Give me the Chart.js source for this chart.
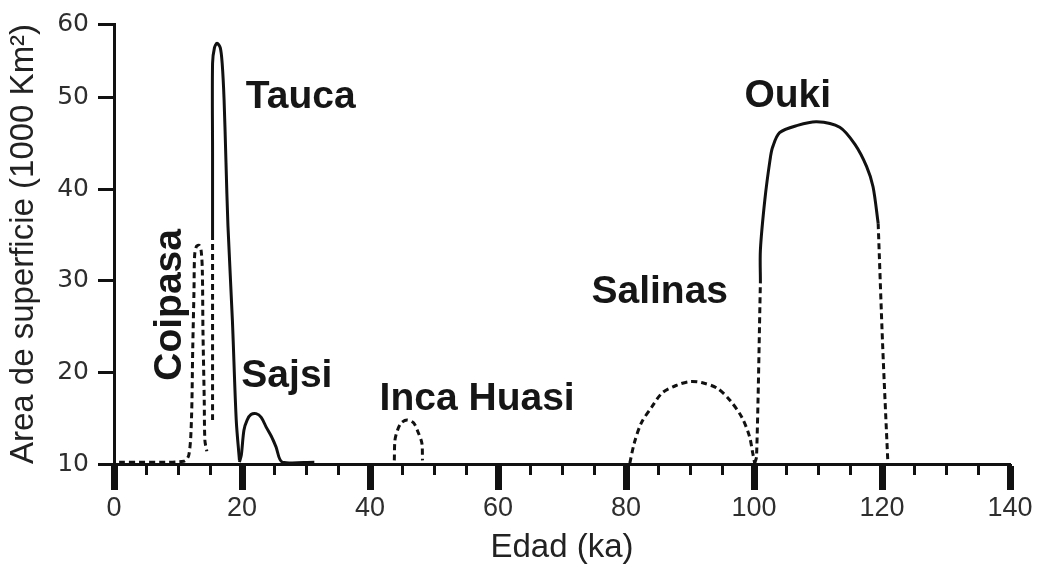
<!DOCTYPE html>
<html><head><meta charset="utf-8">
<script src="https://cdn.jsdelivr.net/npm/chart.js@4/dist/chart.umd.min.js"></script>
<style>html,body{margin:0;padding:0;background:#fff}</style>
</head><body>
<canvas id="c" width="1040" height="568"></canvas>
<script>
// ---- tick labels ----
const xTicks = [0, 20, 40, 60, 80, 100, 120, 140];
const yTicks = [10, 20, 30, 40, 50, 60];

// ---- series (age in ka, area in 1000 km²) ----
const coipasaAge  = [0.8, 10.9, 11.7, 12.1, 12.3, 12.5, 12.6, 12.9, 13.3, 13.6, 13.8, 13.9, 14.1, 14.2, 14.5];
const coipasaArea = [10.2, 10.3, 11.0, 14.8, 22.5, 29.0, 32.8, 33.8, 33.9, 33.4, 31.2, 24.6, 17.0, 12.6, 11.4];

const taucaDashAge  = [15.4, 15.4];
const taucaDashArea = [14.8, 34.7];

const taucaAge  = [15.4, 15.4, 15.4, 15.7, 16.1, 16.6, 16.9, 17.2, 17.5, 17.8, 18.5, 19.1, 19.6];
const taucaArea = [34.7, 44.0, 54.7, 56.8, 57.4, 56.8, 54.7, 49.8, 42.9, 36.1, 25.7, 14.8, 10.4];

const sajsiAge  = [19.6, 19.9, 20.3, 20.8, 21.4, 22.2, 23.0, 23.8, 24.6, 25.3, 26.3, 31.3];
const sajsiArea = [10.2, 11.0, 13.7, 14.8, 15.4, 15.5, 15.1, 14.0, 13.0, 11.9, 10.2, 10.2];

const incaHuasiAge  = [43.8, 43.9, 44.3, 44.9, 45.8, 46.8, 47.5, 48.1, 48.2];
const incaHuasiArea = [10.4, 12.6, 13.7, 14.5, 14.8, 14.5, 13.5, 12.3, 10.4];

const salinasAge  = [80.6, 81.3, 82.4, 84.0, 85.7, 87.9, 89.9, 91.8, 94.2, 96.2, 98.1, 99.3, 99.8, 100.1];
const salinasArea = [10.1, 12.3, 14.5, 16.2, 17.8, 18.6, 19.0, 18.9, 18.3, 17.0, 15.1, 13.0, 11.2, 10.1];

const oukiRiseAge  = [100.1, 100.4, 101.0];
const oukiRiseArea = [10.1, 10.8, 29.9];

const oukiAge  = [101.0, 101.0, 101.7, 102.5, 102.9, 104.0, 106.8, 109.8, 113.4, 115.8, 117.6, 118.6, 119.4];
const oukiArea = [29.9, 33.4, 38.9, 43.2, 44.6, 46.2, 47.0, 47.4, 46.8, 44.9, 42.5, 40.3, 36.3];

const oukiFallAge  = [119.4, 120.1, 120.9];
const oukiFallArea = [36.3, 23.0, 10.4];

// ---- lake name annotations ----
const lakeNames = ['Coipasa', 'Tauca', 'Sajsi', 'Inca Huasi', 'Salinas', 'Ouki'];
const lakeNameAge = [10.5, 20.6, 19.9, 41.5, 74.6, 98.5];
const lakeNameArea = [19.1, 48.9, 18.4, 15.9, 27.6, 49.0];
const lakeNameRotation = [-90, 0, 0, 0, 0, 0];

// ---- axis shape: the original's y axis is compressed between 50 and 60 ----
const yBreakValues = [10, 50, 60];
const yBreakFractions = [0, 0.832, 1];
function valueToFrac(v) {
  for (let i = 1; i < yBreakValues.length; i++) {
    if (v <= yBreakValues[i] || i === yBreakValues.length - 1) {
      const a = yBreakValues[i - 1], b = yBreakValues[i];
      const fa = yBreakFractions[i - 1], fb = yBreakFractions[i];
      return fa + (v - a) / (b - a) * (fb - fa);
    }
  }
}
function fracToValue(f) {
  for (let i = 1; i < yBreakFractions.length; i++) {
    if (f <= yBreakFractions[i] || i === yBreakFractions.length - 1) {
      const a = yBreakValues[i - 1], b = yBreakValues[i];
      const fa = yBreakFractions[i - 1], fb = yBreakFractions[i];
      return a + (f - fa) / (fb - fa) * (b - a);
    }
  }
}
class BrokenLinearScale extends Chart.LinearScale {
  getPixelForValue(value) {
    if (value === null || value === undefined || Number.isNaN(value)) return NaN;
    return this.getPixelForDecimal(valueToFrac(value));
  }
  getValueForPixel(pixel) {
    return fracToValue(this.getDecimalForPixel(pixel));
  }
}
BrokenLinearScale.id = 'brokenLinear';
BrokenLinearScale.defaults = Chart.LinearScale.defaults;
Chart.register(BrokenLinearScale);

Chart.defaults.font.family = '"Liberation Sans", Arial, Helvetica, sans-serif';

function series(label, ages, areas, dashed) {
  return {
    label,
    data: ages.map((a, i) => ({ x: a, y: areas[i] })),
    borderColor: '#111',
    borderWidth: 3,
    borderDash: dashed ? [6, 4] : [],
    borderCapStyle: 'butt',
    pointRadius: 0,
    pointHoverRadius: 0,
    tension: 0.3,
    fill: false,
    clip: false,
    xAxisID: 'x',
    yAxisID: 'y'
  };
}

const namePlugin = {
  id: 'lakeNames',
  afterDatasetsDraw(chart) {
    const { ctx } = chart;
    const xs = chart.scales.x, ys = chart.scales.y;
    ctx.save();
    ctx.font = 'bold 39px "Liberation Sans", Arial, sans-serif';
    ctx.fillStyle = '#161616';
    ctx.textAlign = 'left';
    ctx.textBaseline = 'alphabetic';
    lakeNames.forEach((name, i) => {
      const px = xs.getPixelForValue(lakeNameAge[i]);
      const py = ys.getPixelForValue(lakeNameArea[i]);
      ctx.save();
      ctx.translate(px, py);
      ctx.rotate(lakeNameRotation[i] * Math.PI / 180);
      ctx.fillText(name, 0, 0);
      ctx.restore();
    });
    ctx.restore();
  }
};

new Chart(document.getElementById('c'), {
  type: 'line',
  data: {
    datasets: [
      series('Coipasa', coipasaAge, coipasaArea, true),
      series('Tauca (inferido)', taucaDashAge, taucaDashArea, true),
      series('Tauca', taucaAge, taucaArea, false),
      series('Sajsi', sajsiAge, sajsiArea, false),
      series('Inca Huasi', incaHuasiAge, incaHuasiArea, true),
      series('Salinas', salinasAge, salinasArea, true),
      series('Ouki (inferido, subida)', oukiRiseAge, oukiRiseArea, true),
      series('Ouki', oukiAge, oukiArea, false),
      series('Ouki (inferido, bajada)', oukiFallAge, oukiFallArea, true)
    ]
  },
  options: {
    responsive: false,
    animation: false,
    devicePixelRatio: 1,
    layout: { padding: { left: 0, top: 24, right: 30, bottom: 0 } },
    plugins: { legend: { display: false }, tooltip: { enabled: false } },
    events: [],
    scales: {
      x: {
        type: 'linear', position: 'bottom', min: 0, max: 140,
        afterBuildTicks(s) { s.ticks = xTicks.map(v => ({ value: v })); },
        afterFit(s) { s.height = 104; },
        border: { display: true, color: '#111', width: 3 },
        grid: { drawOnChartArea: false, drawTicks: true, tickLength: 26, tickWidth: 7, tickColor: '#111' },
        ticks: { color: '#2e2e2e', font: { size: 27 }, padding: 2, maxRotation: 0, autoSkip: false },
        title: { display: true, text: 'Edad (ka)', color: '#222', font: { size: 33 }, padding: { top: 0, bottom: 0 } }
      },
      xMinor: {
        type: 'linear', axis: 'x', position: { y: 10 }, min: 0, max: 140,
        ticks: { display: false, stepSize: 5, autoSkip: false },
        border: { display: false },
        grid: { drawOnChartArea: false, drawTicks: true, tickLength: 11, tickWidth: 3, tickColor: '#111' }
      },
      y: {
        type: 'brokenLinear', position: 'left', min: 10, max: 60,
        afterBuildTicks(s) { s.ticks = yTicks.map(v => ({ value: v })); },
        afterFit(s) { s.width = 114; },
        border: { display: true, color: '#111', width: 3 },
        grid: { drawOnChartArea: false, drawTicks: true, tickLength: 16, tickWidth: 3, tickColor: '#111' },
        ticks: { color: '#2e2e2e', font: { family: '"DejaVu Sans", sans-serif', size: 25 }, padding: 9 },
        title: { display: true, text: 'Area de superficie (1000 Km²)', color: '#222', font: { size: 33 }, padding: { top: 4, bottom: 0 } }
      }
    }
  },
  plugins: [namePlugin]
});
</script>
</body></html>
